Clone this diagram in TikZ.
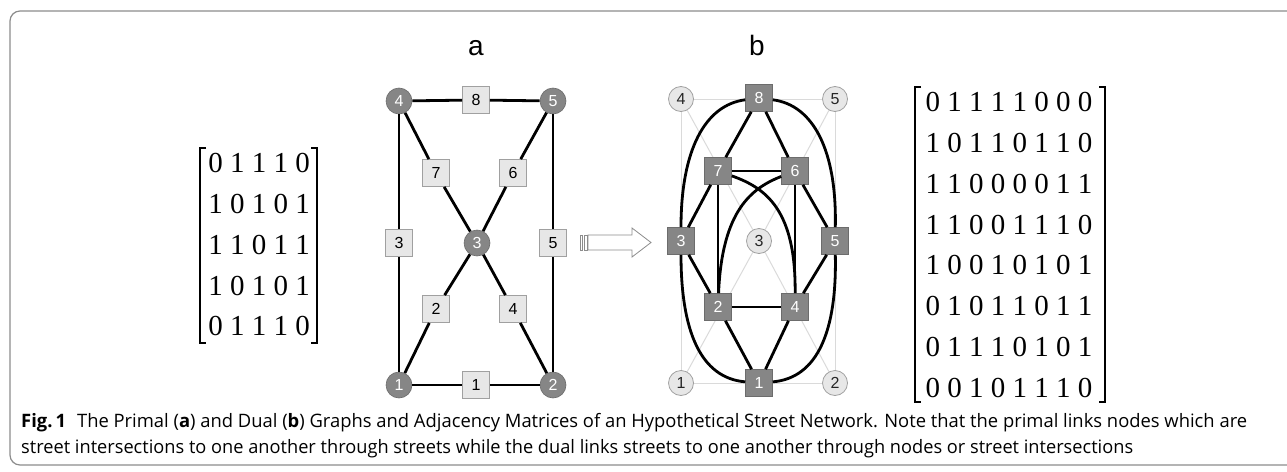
\documentclass[tikz,border=0pt]{standalone}
\usepackage{fontspec}
\setmainfont{Liberation Serif}
\setsansfont{Liberation Sans}
\newfontfamily\capfont{Open Sans}
\usetikzlibrary{calc}
\pgfdeclarelayer{bg}
\pgfsetlayers{bg,main}

\definecolor{darknode}{RGB}{134,134,134}
\definecolor{darkrim}{RGB}{108,108,108}
\definecolor{lightnode}{RGB}{231,231,231}
\definecolor{lightrim}{RGB}{160,160,160}
\definecolor{ghost}{RGB}{218,218,218}
\definecolor{framegray}{RGB}{140,140,140}
\definecolor{captext}{RGB}{35,31,32}

\newsavebox\caplineA
\newsavebox\caplineB
\newlength\caplinewd

\begin{document}
\sbox\caplineA{\capfont\fontsize{18.5}{22}\selectfont\textbf{Fig.\,1}\hspace{0.6em}The Primal (\textbf{a}) and Dual (\textbf{b}) Graphs and Adjacency Matrices of an Hypothetical Street Network. Note that the primal links nodes which are}%
\sbox\caplineB{\capfont\fontsize{18.5}{22}\selectfont street intersections to one another through streets while the dual links streets to one another through nodes or street intersections}%
\setlength\caplinewd{\wd\caplineA}%
\pgfmathsetmacro\capscaleA{1226/\caplinewd}%
\setlength\caplinewd{\wd\caplineB}%
\pgfmathsetmacro\capscaleB{1112/\caplinewd}%
\begin{tikzpicture}[x=1pt,y=-1pt,
  nodefont/.style={font=\sffamily\fontsize{16}{19}\selectfont},
  pcirc/.style={circle,fill=darknode,draw=darkrim,line width=0.6pt,minimum size=26pt,inner sep=0pt,text=white,nodefont},
  psq/.style={rectangle,fill=lightnode,draw=lightrim,line width=0.8pt,minimum size=27pt,inner sep=0pt,text=black,nodefont},
  dcirc/.style={circle,fill=lightnode,draw=lightrim,line width=0.8pt,minimum size=25pt,inner sep=0pt,text=black!85,nodefont},
  dsq/.style={rectangle,fill=darknode,draw=darkrim,line width=0.6pt,minimum size=27pt,inner sep=0pt,text=white,nodefont},
  link/.style={line width=2.8pt,black},
  ghostlink/.style={line width=1pt,ghost},
  matrow/.style={font=\fontsize{29}{34}\selectfont,inner sep=0pt},
  brack/.style={line width=1.6pt,black},
  panel/.style={font=\sffamily\fontsize{28}{32}\selectfont,inner sep=0pt,anchor=base},
  arrowline/.style={line width=0.8pt,draw=black!45,fill=white},
  capline/.style={anchor=base west,inner sep=0pt,text=captext}
]
\useasboundingbox (0,0) rectangle (1287,471);

% outer frame, open on the right
\draw[framegray,line width=1.2pt,rounded corners=10pt]
  (1295,11) -- (10,11) -- (10,465) -- (1295,465);

% panel letters
\node[panel] (la) at (476,55) {a};
\node[panel] (lb) at (757,55) {b};

% ---------------- primal graph ----------------
\node[pcirc] (p4) at (399,101) {4};
\node[pcirc] (p5) at (553,101) {5};
\node[pcirc] (p3) at (477,243) {3};
\node[pcirc] (p1) at (399,385) {1};
\node[pcirc] (p2) at (553,385) {2};

\node[psq] (e8) at (476,100) {8};
\node[psq] (e7) at (436,173) {7};
\node[psq] (e6) at (513,173) {6};
\node[psq] (e3) at (399,243) {3};
\node[psq] (e5) at (553,243) {5};
\node[psq] (e2) at (436,309) {2};
\node[psq] (e4) at (513,309) {4};
\node[psq] (e1) at (476,385) {1};

\draw[link] (p4) -- (e8) -- (p5);
\draw[link] (p4) -- (e3) -- (p1);
\draw[link] (p5) -- (e5) -- (p2);
\draw[link] (p1) -- (e1) -- (p2);
\draw[link] (p4) -- (e7) -- (p3);
\draw[link] (p5) -- (e6) -- (p3);
\draw[link] (p3) -- (e2) -- (p1);
\draw[link] (p3) -- (e4) -- (p2);

% ---------------- transition arrow ----------------
\draw[arrowline] (588,235) -- (632,235) -- (632,228) -- (651,242.5)
  -- (632,257) -- (632,250) -- (588,250) -- cycle;
\draw[line width=0.7pt,draw=black!45] (580,235) rectangle (582.5,250);
\draw[line width=0.7pt,draw=black!45] (584,235) rectangle (587,250);

% ---------------- dual graph ----------------
\node[dcirc] (q4) at (681,99) {4};
\node[dcirc] (q5) at (835,99) {5};
\node[dcirc] (q3) at (759,241) {3};
\node[dcirc] (q1) at (681,383) {1};
\node[dcirc] (q2) at (835,383) {2};

\node[dsq] (d8) at (759,98) {8};
\node[dsq] (d7) at (718,171) {7};
\node[dsq] (d6) at (795,171) {6};
\node[dsq] (d3) at (681,241) {3};
\node[dsq] (d5) at (835,241) {5};
\node[dsq] (d2) at (718,307) {2};
\node[dsq] (d4) at (795,307) {4};
\node[dsq] (d1) at (759,383) {1};

% faint primal skeleton behind the dual
\begin{pgfonlayer}{bg}
  \draw[ghostlink] (q4) -- (q5);
  \draw[ghostlink] (q1) -- (q2);
  \draw[ghostlink] (q4) -- (q1);
  \draw[ghostlink] (q5) -- (q2);
  \draw[ghostlink] (q4) -- (q3) -- (q2);
  \draw[ghostlink] (q5) -- (q3) -- (q1);
\end{pgfonlayer}

% straight dual links
\draw[link] (d1) -- (d2);
\draw[link] (d1) -- (d4);
\draw[link] (d2) -- (d3);
\draw[link] (d2) -- (d4);
\draw[link] (d2) -- (d7);
\draw[link] (d4) -- (d5);
\draw[link] (d4) -- (d6);
\draw[link] (d3) -- (d7);
\draw[link] (d5) -- (d6);
\draw[link] (d6) -- (d7);
\draw[link] (d6) -- (d8);
\draw[link] (d7) -- (d8);
% curved dual links
\draw[link] (d3) .. controls (681,150) and (705,105) .. (d8);
\draw[link] (d5) .. controls (837,150) and (813,105) .. (d8);
\draw[link] (d3) .. controls (681,330) and (700,378) .. (d1);
\draw[link] (d5) .. controls (837,330) and (818,378) .. (d1);
\draw[link] (d2) .. controls (722,210) and (752,188) .. (d6);
\draw[link] (d4) .. controls (796,210) and (766,188) .. (d7);

% ---------------- adjacency matrices ----------------
\node[matrow] (lm1) at (259,163) {0 1 1 1 0};
\node[matrow] (lm2) at (259,204) {1 0 1 0 1};
\node[matrow] (lm3) at (259,245) {1 1 0 1 1};
\node[matrow] (lm4) at (259,286) {1 0 1 0 1};
\node[matrow] (lm5) at (259,326) {0 1 1 1 0};
\draw[brack] (206,148) -- (200,148) -- (200,343) -- (206,343);
\draw[brack] (311,148) -- (317,148) -- (317,343) -- (311,343);

\node[matrow] (rm1) at (1009,102) {0 1 1 1 1 0 0 0};
\node[matrow] (rm2) at (1009,143) {1 0 1 1 0 1 1 0};
\node[matrow] (rm3) at (1009,184) {1 1 0 0 0 0 1 1};
\node[matrow] (rm4) at (1009,225) {1 1 0 0 1 1 1 0};
\node[matrow] (rm5) at (1009,265) {1 0 0 1 0 1 0 1};
\node[matrow] (rm6) at (1009,306) {0 1 0 1 1 0 1 1};
\node[matrow] (rm7) at (1009,347) {0 1 1 1 0 1 0 1};
\node[matrow] (rm8) at (1009,388) {0 0 1 0 1 1 1 0};
\draw[brack] (921,87) -- (915,87) -- (915,402) -- (921,402);
\draw[brack] (1099,87) -- (1105,87) -- (1105,402) -- (1099,402);

% ---------------- caption ----------------
\node[capline] (cap1) at (21,427) {\scalebox{\capscaleA}[1]{\usebox\caplineA}};
\node[capline] (cap2) at (21,453) {\scalebox{\capscaleB}[1]{\usebox\caplineB}};
\end{tikzpicture}
\end{document}
